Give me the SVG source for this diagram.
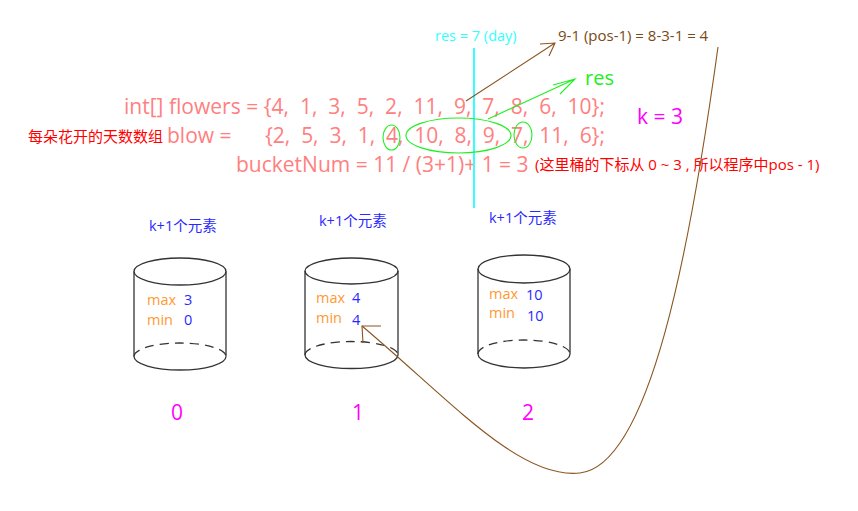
<svg xmlns="http://www.w3.org/2000/svg" width="858" height="511" viewBox="0 0 858 511">
<style>
text{font-family:"Open Sans","Noto Sans","Noto Sans CJK SC",sans-serif;}
.code{fill:#ff8080;font-size:21px;white-space:pre;}
.red{fill:#ff0000;font-size:15px;}
.blue{fill:#2a2aff;font-size:14.5px;}
.or{fill:#ff9933;font-size:14.5px;}
.mag{fill:#ff00ff;font-size:21px;}
.cyl{fill:none;stroke:#333;stroke-width:1.3;}
.dash{fill:none;stroke:#333;stroke-width:1.3;stroke-dasharray:9 6;}
.green{fill:none;stroke:#22ee22;stroke-width:1.1;}
.brown{fill:none;stroke:#8a5520;stroke-width:1.1;}
</style>
<rect width="858" height="511" fill="#fff"/>

<g id="code">
<text class="code" x="124" y="114" textLength="481" lengthAdjust="spacing" xml:space="preserve">int[] flowers = {4,  1,  3,  5,  2,  11,  9,  7,  8,  6,  10};</text>
<text class="red" x="28" y="142">每朵花开的天数数组</text>
<text class="code" x="167" y="143">blow =</text>
<text class="code" x="265" y="143" textLength="340" lengthAdjust="spacing" xml:space="preserve">{2,  5,  3,  1,  4,  10,  8,  9,  7,  11,  6};</text>
<text class="code" x="236" y="172">bucketNum = 11 / (3+1)+ 1 = 3</text>
<text class="red" x="535" y="170">(这里桶的下标从 0 ~ 3 , 所以程序中pos - 1)</text>
<text class="mag" x="637" y="124">k = 3</text>
</g>

<g id="res-day">
<line x1="474" y1="48" x2="474" y2="208" stroke="#33ffff" stroke-width="2"/>
<text x="435" y="41" fill="#33ffff" font-size="14.5">res = 7 (day)</text>
</g>

<g id="formula">
<text x="558" y="41" fill="#7a4a14" font-size="15">9-1 (pos-1) = 8-3-1 = 4</text>
</g>

<g id="res-label">
<text x="585" y="85" fill="#22ee22" font-size="20">res</text>
</g>

<g id="circles">
<ellipse class="green" cx="391.5" cy="137.5" rx="8.5" ry="12.5"/>
<ellipse class="green" cx="458.5" cy="135.5" rx="52.5" ry="17.5"/>
<ellipse class="green" cx="523" cy="135" rx="9" ry="13"/>
</g>

<g id="bucket0">
<text class="blue" x="149" y="231">k+1个元素</text>
<ellipse class="cyl" cx="180" cy="271.5" rx="46" ry="13.5"/>
<line class="cyl" x1="134" y1="271.5" x2="134" y2="356.5"/>
<line class="cyl" x1="226" y1="271.5" x2="226" y2="356.5"/>
<path class="dash" d="M134 356.5 A46 13.5 0 0 1 226 356.5"/>
<path class="cyl" d="M134 356.5 A46 13.5 0 0 0 226 356.5"/>
<text class="or" x="147" y="305">max</text><text class="blue" x="184" y="305">3</text>
<text class="or" x="147" y="325">min</text><text class="blue" x="184" y="325">0</text>
<text class="mag" x="171" y="420">0</text>
</g>

<g id="bucket1">
<text class="blue" x="319" y="226">k+1个元素</text>
<ellipse class="cyl" cx="351.5" cy="271" rx="46.5" ry="13"/>
<line class="cyl" x1="305" y1="271" x2="305" y2="355"/>
<line class="cyl" x1="398" y1="271" x2="398" y2="355"/>
<path class="dash" d="M305 355 A46.5 13.5 0 0 1 398 355"/>
<path class="cyl" d="M305 355 A46.5 13.5 0 0 0 398 355"/>
<text class="or" x="316" y="303">max</text><text class="blue" x="352" y="303">4</text>
<text class="or" x="316" y="323">min</text><text class="blue" x="352" y="325">4</text>
<text class="mag" x="352" y="420">1</text>
</g>

<g id="bucket2">
<text class="blue" x="489" y="223">k+1个元素</text>
<ellipse class="cyl" cx="524" cy="269" rx="46" ry="14"/>
<line class="cyl" x1="478" y1="269" x2="478" y2="354"/>
<line class="cyl" x1="570" y1="269" x2="570" y2="354"/>
<path class="dash" d="M478 354 A46 14 0 0 1 570 354"/>
<path class="cyl" d="M478 354 A46 14 0 0 0 570 354"/>
<text class="or" x="489" y="299">max</text><text class="blue" x="526" y="300">10</text>
<text class="or" x="489" y="318">min</text><text class="blue" x="527" y="321">10</text>
<text class="mag" x="522" y="420">2</text>
</g>

<g id="connectors">
<path class="brown" d="M466 101 L555 43 M540 44 L555 43 L549 56"/>
<path class="green" d="M488 119 L575 79 M553 85 L575 79 L560 94"/>
<path class="brown" d="M718 47 C690 250 650 465 580 473 C520 480 450 400 362 326"/>
<path class="brown" d="M381 326 L362 326 L363 343"/>
</g>
</svg>
